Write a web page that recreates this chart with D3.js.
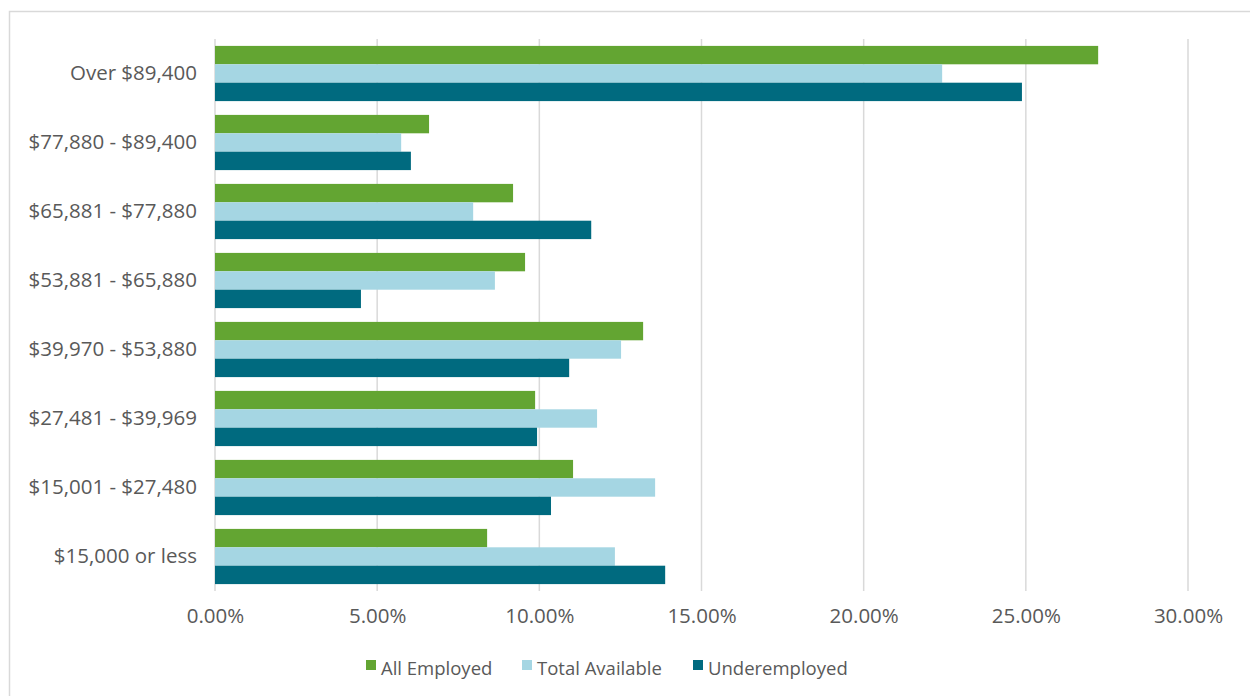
<!DOCTYPE html>
<html><head><meta charset="utf-8">
<script src="https://cdn.jsdelivr.net/npm/d3@7"></script>
<style>body{margin:0;background:#fff;} text{font-family:"Open Sans",sans-serif;fill:#595959;}</style>
</head><body>
<svg id="c" width="1250" height="696"></svg>
<script>
const categories = ["Over $89,400","$77,880 - $89,400","$65,881 - $77,880","$53,881 - $65,880","$39,970 - $53,880","$27,481 - $39,969","$15,001 - $27,480","$15,000 or less"];
const seriesNames = ["All Employed","Total Available","Underemployed"];
const allEmployed =    [0.2723,0.0660,0.0919,0.0956,0.1320,0.0987,0.1104,0.0839];
const totalAvailable = [0.2242,0.0574,0.0796,0.0863,0.1252,0.1178,0.1357,0.1233];
const underemployed =  [0.2488,0.0604,0.1160,0.0450,0.1092,0.0993,0.1036,0.1388];
const tickValues = [0,0.05,0.10,0.15,0.20,0.25,0.30];
const colors = ["#63a532","#a5d6e3","#006a7f"];
const seriesValues = [allEmployed,totalAvailable,underemployed];

const svg = d3.select("#c");
svg.append("rect").attr("x",9.5).attr("y",11.5).attr("width",1245).attr("height",690)
  .attr("fill","none").attr("stroke","#d9d9d9").attr("stroke-width",1.5);

const x = d3.scaleLinear().domain([0,0.30]).range([215,1188]);
const y = d3.scaleBand().domain(categories).range([39,591]).paddingInner(0.2).paddingOuter(0.1);
const ys = d3.scaleBand().domain(seriesNames).range([0,y.bandwidth()]);

// gridlines
svg.append("g").selectAll("line").data(tickValues).join("line")
  .attr("x1",d=>x(d)).attr("x2",d=>x(d)).attr("y1",39).attr("y2",591)
  .attr("stroke","#d9d9d9").attr("stroke-width",1.5);

// bars
const groups = svg.append("g").selectAll("g").data(categories).join("g")
  .attr("transform",c=>`translate(0,${y(c)})`);
groups.selectAll("rect").data((c,i)=>seriesNames.map((s,j)=>({s,j,v:seriesValues[j][i]}))).join("rect")
  .attr("x",x(0)).attr("y",d=>ys(d.s)).attr("width",d=>x(d.v)-x(0)).attr("height",ys.bandwidth())
  .attr("fill",d=>colors[d.j]);

// x axis
const xAxis = d3.axisBottom(x).tickValues(tickValues).tickFormat(d3.format(".2%")).tickSize(0).tickPadding(0);
const gx = svg.append("g").attr("transform","translate(0,604)").call(xAxis);
gx.select(".domain").remove();
gx.selectAll("text").attr("font-size",20.5).attr("dy","0.95em").style("font-family","'Open Sans',sans-serif").attr("fill","#595959");

// y axis
const yAxis = d3.axisLeft(y).tickSize(0).tickPadding(0);
const gy = svg.append("g").attr("transform","translate(197,0)").call(yAxis);
gy.select(".domain").remove();
gy.selectAll("text").attr("font-size",20.5).style("font-family","'Open Sans',sans-serif").attr("fill","#595959");

// legend
const legendX = [366,522,693];
const lg = svg.append("g").selectAll("g").data(seriesNames).join("g")
  .attr("transform",(d,i)=>`translate(${legendX[i]},0)`);
lg.append("rect").attr("x",0).attr("y",660).attr("width",10).attr("height",10).attr("fill",(d,i)=>colors[i]);
lg.append("text").attr("x",15).attr("y",675).attr("font-size",18.5).text(d=>d);
</script>
</body></html>
